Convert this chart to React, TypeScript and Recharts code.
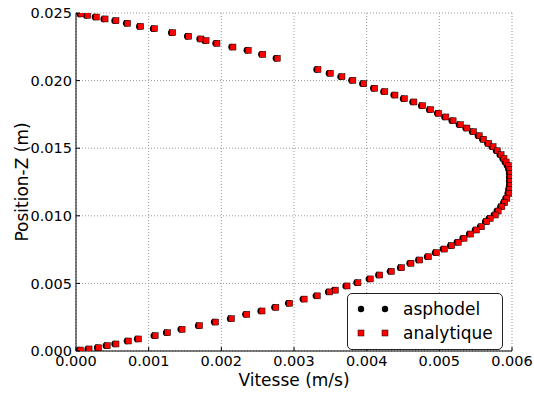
import React from 'react';
import { ScatterChart, Scatter, XAxis, YAxis, CartesianGrid, Label } from 'recharts';

// position z (m) from top to bottom
const positionZ = [
    0.02493, 0.02483, 0.02470, 0.02456, 0.02443, 0.02424, 0.02401, 0.02384, 0.02354, 0.02328,
    0.02308, 0.02295, 0.02276, 0.02248, 0.02224, 0.02194, 0.02165, 0.02082, 0.02054, 0.02029,
    0.02002, 0.01977, 0.01943, 0.01918, 0.01893, 0.01866, 0.01842, 0.01814, 0.01785, 0.01758,
    0.01731, 0.01703, 0.01674, 0.01649, 0.01622, 0.01592, 0.01566, 0.01536, 0.01511, 0.01481,
    0.01452, 0.01424, 0.01398, 0.01372, 0.01344, 0.01314, 0.01285, 0.01255, 0.01226, 0.01196,
    0.01166, 0.01129, 0.01097, 0.01067, 0.01035, 0.01006, 0.00981, 0.00956, 0.00919, 0.00895,
    0.00865, 0.00834, 0.00804, 0.00779, 0.00754, 0.00727, 0.00697, 0.00673, 0.00649, 0.00616,
    0.00589, 0.00562, 0.00533, 0.00505, 0.00481, 0.00450, 0.00437, 0.00408, 0.00384, 0.00353,
    0.00323, 0.00296, 0.00271, 0.00239, 0.00214, 0.00187, 0.00160, 0.00135, 0.00113, 0.00089,
    0.00074, 0.00052, 0.00039, 0.00024, 0.00015, 0.00007,
];

// analytical velocity (m/s)
const analytiqueVitesse = [
    0.00007, 0.00016, 0.00028, 0.00040, 0.00055, 0.00071, 0.00089, 0.00108, 0.00133, 0.00155,
    0.00172, 0.00179, 0.00194, 0.00216, 0.00237, 0.00257, 0.00277, 0.00333, 0.00350, 0.00366,
    0.00381, 0.00396, 0.00411, 0.00425, 0.00439, 0.00452, 0.00465, 0.00477, 0.00488, 0.00499,
    0.00509, 0.00519, 0.00529, 0.00538, 0.00547, 0.00555, 0.00561, 0.00568, 0.00574, 0.00580,
    0.00585, 0.00589, 0.00592, 0.00595, 0.00597, 0.00598, 0.00598, 0.00598, 0.00598, 0.00597,
    0.00596, 0.00593, 0.00590, 0.00586, 0.00581, 0.00577, 0.00570, 0.00565, 0.00558, 0.00551,
    0.00543, 0.00534, 0.00526, 0.00517, 0.00507, 0.00496, 0.00485, 0.00473, 0.00461, 0.00448,
    0.00434, 0.00418, 0.00405, 0.00388, 0.00373, 0.00357, 0.00349, 0.00332, 0.00314, 0.00294,
    0.00275, 0.00256, 0.00235, 0.00214, 0.00192, 0.00170, 0.00146, 0.00126, 0.00109, 0.00086,
    0.00072, 0.00055, 0.00043, 0.00031, 0.00018, 0.00006,
];

// simulated velocity (m/s), a touch lower than the analytical one
const asphodelVitesse = [
    0.00005, 0.00014, 0.00026, 0.00038, 0.00053, 0.00069, 0.00087, 0.00106, 0.00131, 0.00153,
    0.00170, 0.00177, 0.00192, 0.00214, 0.00235, 0.00255, 0.00275, 0.00331, 0.00348, 0.00364,
    0.00379, 0.00394, 0.00409, 0.00423, 0.00437, 0.00450, 0.00463, 0.00475, 0.00486, 0.00497,
    0.00507, 0.00517, 0.00527, 0.00536, 0.00545, 0.00553, 0.00559, 0.00566, 0.00572, 0.00578,
    0.00583, 0.00587, 0.00590, 0.00593, 0.00595, 0.00596, 0.00596, 0.00596, 0.00596, 0.00595,
    0.00594, 0.00591, 0.00588, 0.00584, 0.00579, 0.00575, 0.00568, 0.00563, 0.00556, 0.00549,
    0.00541, 0.00532, 0.00524, 0.00515, 0.00505, 0.00494, 0.00483, 0.00471, 0.00459, 0.00446,
    0.00432, 0.00416, 0.00403, 0.00386, 0.00371, 0.00355, 0.00347, 0.00330, 0.00312, 0.00292,
    0.00273, 0.00254, 0.00233, 0.00212, 0.00190, 0.00168, 0.00144, 0.00124, 0.00107, 0.00084,
    0.00070, 0.00053, 0.00041, 0.00029, 0.00016, 0.00004,
];

const xTicks = [0, 0.001, 0.002, 0.003, 0.004, 0.005, 0.006];
const yTicks = [0, 0.005, 0.01, 0.015, 0.02, 0.025];

const font = '"DejaVu Sans", sans-serif';

const asphodelData = positionZ.map((z, i) => ({ v: asphodelVitesse[i], z }));
const analytiqueData = positionZ.map((z, i) => ({ v: analytiqueVitesse[i], z }));

const BottomTick = (props: any) => {
    const { x, y, payload } = props;
    return (
        <g>
            <line x1={x} x2={x} y1={y - 4} y2={y - 8} stroke="#000" strokeWidth={1} />
            <text x={x} y={y} dy="0.75em" textAnchor="middle" fontSize={14.5} fill="#000" fontFamily={font}>
                {Number(payload.value).toFixed(3)}
            </text>
        </g>
    );
};

const LeftTick = (props: any) => {
    const { x, y, payload } = props;
    return (
        <g>
            <line x1={x + 4} x2={x + 8} y1={y} y2={y} stroke="#000" strokeWidth={1} />
            <text x={x} y={y} dy="0.36em" textAnchor="end" fontSize={14.5} fill="#000" fontFamily={font}>
                {Number(payload.value).toFixed(3)}
            </text>
        </g>
    );
};

const TopTick = (props: any) => {
    const { x, y } = props;
    return <line x1={x} x2={x} y1={y} y2={y + 4} stroke="#000" strokeWidth={1} />;
};

const RightTick = (props: any) => {
    const { x, y } = props;
    return <line x1={x} x2={x - 4} y1={y} y2={y} stroke="#000" strokeWidth={1} />;
};

const Square = (props: any) => (
    <rect x={props.cx - 3} y={props.cy - 3} width={6} height={6} fill="#ff0000" stroke="#000" strokeWidth={0.5} />
);

const Dot = (props: any) => <circle cx={props.cx} cy={props.cy} r={3.2} fill="#000" />;

export default function App() {
    return (
        <div style={{ position: 'absolute', left: 0, top: 0, width: 534, height: 394, background: '#fff' }}>
            <ScatterChart width={534} height={394} margin={{ top: 13, right: 22, bottom: 0, left: 0 }}>
                <CartesianGrid stroke="#999" strokeDasharray="1 2" strokeWidth={1} />
                <XAxis
                    type="number"
                    dataKey="v"
                    domain={[0, 0.006]}
                    ticks={xTicks}
                    allowDataOverflow
                    height={43}
                    tickSize={0}
                    tickMargin={4}
                    tick={<BottomTick />}
                    axisLine={{ stroke: '#000', strokeWidth: 1 }}
                >
                    <Label
                        content={() => (
                            <text x={294} y={386} textAnchor="middle" fontSize={17} fontFamily={font} fill="#000">
                                Vitesse (m/s)
                            </text>
                        )}
                    />
                </XAxis>
                <XAxis
                    xAxisId="top"
                    orientation="top"
                    type="number"
                    domain={[0, 0.006]}
                    ticks={xTicks}
                    height={0}
                    tickSize={0}
                    tickMargin={0}
                    tick={<TopTick />}
                    axisLine={{ stroke: '#000', strokeWidth: 1 }}
                />
                <YAxis
                    type="number"
                    dataKey="z"
                    domain={[0, 0.025]}
                    ticks={yTicks}
                    allowDataOverflow
                    width={76}
                    tickSize={0}
                    tickMargin={4}
                    tick={<LeftTick />}
                    axisLine={{ stroke: '#000', strokeWidth: 1 }}
                >
                    <Label
                        content={() => (
                            <text
                                x={28}
                                y={182}
                                transform="rotate(-90 28 182)"
                                textAnchor="middle"
                                fontSize={17}
                                fontFamily={font}
                                fill="#000"
                            >
                                Position-Z (m)
                            </text>
                        )}
                    />
                </YAxis>
                <YAxis
                    yAxisId="right"
                    orientation="right"
                    type="number"
                    domain={[0, 0.025]}
                    ticks={yTicks}
                    width={0}
                    tickSize={0}
                    tickMargin={0}
                    tick={<RightTick />}
                    axisLine={{ stroke: '#000', strokeWidth: 1 }}
                />
                <Scatter name="asphodel" data={asphodelData} shape={<Dot />} isAnimationActive={false} />
                <Scatter name="analytique" data={analytiqueData} shape={<Square />} isAnimationActive={false} />
            </ScatterChart>
            <div
                style={{
                    position: 'absolute',
                    left: 347,
                    top: 293,
                    width: 156,
                    height: 57,
                    boxSizing: 'border-box',
                    border: '1px solid #222',
                    borderRadius: 5,
                    background: '#fff',
                    fontFamily: font,
                    fontSize: 17,
                    color: '#000',
                }}
            >
                <div style={{ position: 'absolute', left: 0, top: 3, height: 24, display: 'flex', alignItems: 'center' }}>
                    <svg width={50} height={24} style={{ display: 'block' }}>
                        <circle cx={13} cy={12} r={3.2} fill="#000" />
                        <circle cx={37} cy={12} r={3.2} fill="#000" />
                    </svg>
                    <span style={{ marginLeft: 5 }}>asphodel</span>
                </div>
                <div style={{ position: 'absolute', left: 0, top: 27, height: 24, display: 'flex', alignItems: 'center' }}>
                    <svg width={50} height={24} style={{ display: 'block' }}>
                        <rect x={10} y={9} width={6} height={6} fill="#ff0000" stroke="#000" strokeWidth={0.5} />
                        <rect x={34} y={9} width={6} height={6} fill="#ff0000" stroke="#000" strokeWidth={0.5} />
                    </svg>
                    <span style={{ marginLeft: 5 }}>analytique</span>
                </div>
            </div>
        </div>
    );
}
